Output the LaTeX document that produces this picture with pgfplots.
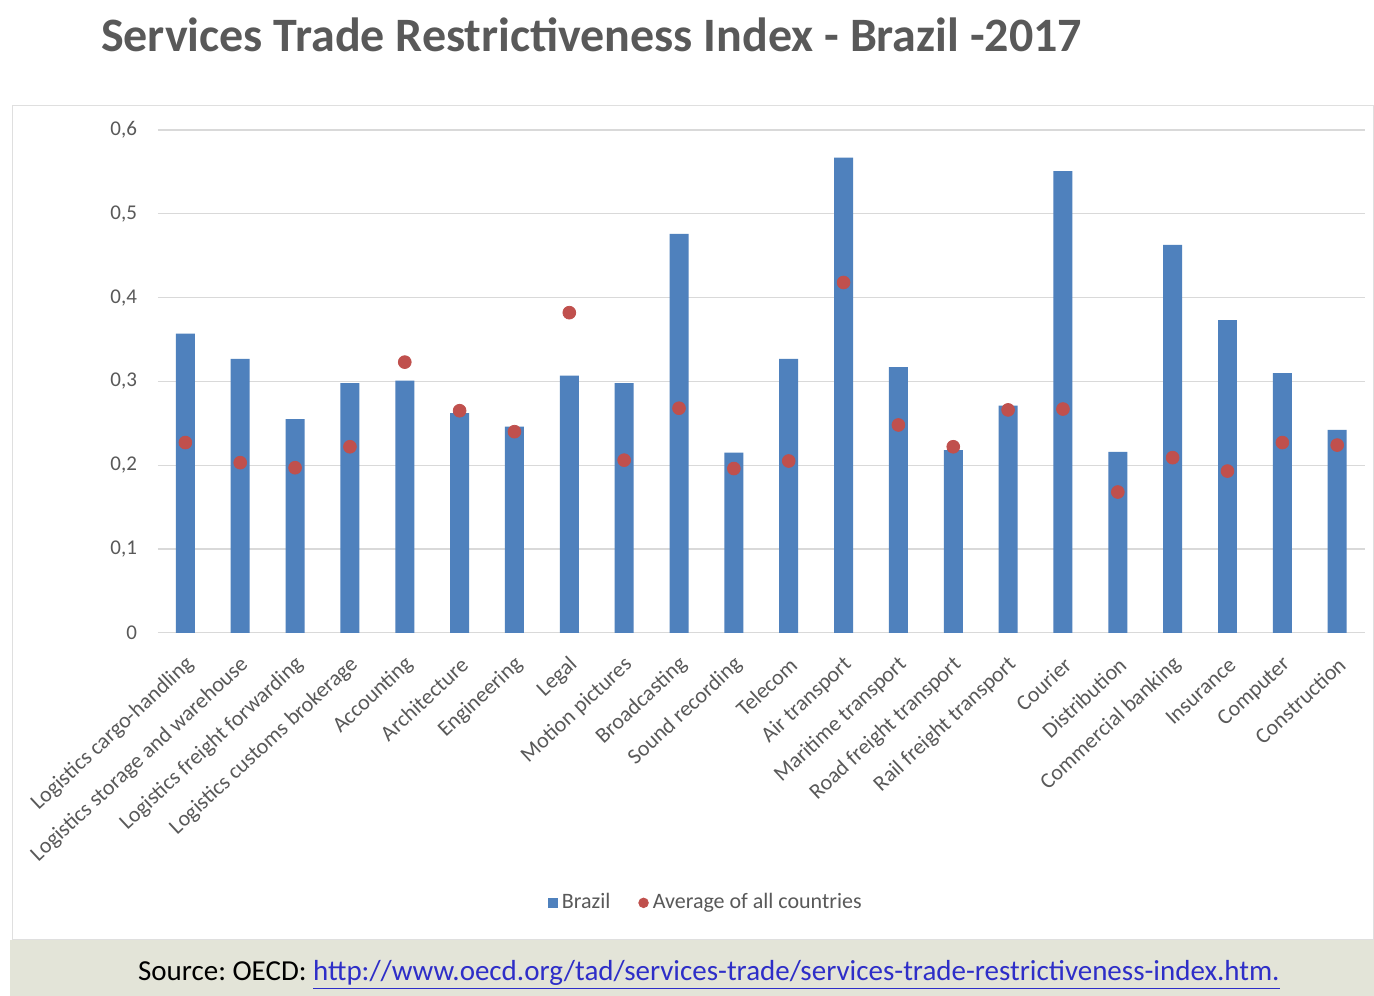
\documentclass[border=0pt]{standalone}
\usepackage{pgfplots}
\pgfplotsset{compat=1.18}
\usepackage{pgfplotstable}
\usepackage{fontspec}
\setmainfont{Carlito}

\definecolor{barblue}{HTML}{4F81BD}
\definecolor{dotred}{HTML}{C0504D}
\definecolor{txtgray}{HTML}{595959}
\definecolor{gridgray}{HTML}{D9D9D9}
\definecolor{footbg}{HTML}{E3E4D8}
\definecolor{linkblue}{HTML}{2E2EC8}

% idx, Brazil, average of all countries
\pgfplotstableread{
idx brazil avg
0  0.357 0.227
1  0.327 0.203
2  0.255 0.197
3  0.298 0.222
4  0.301 0.323
5  0.262 0.265
6  0.246 0.240
7  0.307 0.382
8  0.298 0.206
9  0.476 0.268
10 0.215 0.196
11 0.327 0.205
12 0.567 0.418
13 0.317 0.248
14 0.218 0.222
15 0.271 0.266
16 0.551 0.267
17 0.216 0.168
18 0.463 0.209
19 0.373 0.193
20 0.310 0.227
21 0.242 0.224
}\stsri

\begin{document}
\begin{tikzpicture}
% page and frame (1px = 0.5pt)
\fill[white] (0pt,0pt) rectangle (687pt,498pt);
\draw[gray!25] (6pt,28pt) rectangle (687pt,445.5pt);
\fill[footbg] (5pt,0pt) rectangle (687pt,28pt);
\node[anchor=west, text=txtgray, font=\fontsize{24}{28}\selectfont\bfseries] at (47pt,480.5pt)
  {Services Trade Restrictiveness Index - Brazil -2017};
\node[font=\fontsize{14.5}{17}\selectfont] at (354.5pt,10.5pt)
  {Source:\ OECD: \textcolor{linkblue}{\underline{http://www.oecd.org/tad/services-trade/services-trade-restrictiveness-index.htm.}}};

\begin{axis}[
    at={(79pt,181.5pt)}, anchor=south west,
    scale only axis,
    width=603.5pt, height=251.5pt,
    xmin=-0.5, xmax=21.5,
    ymin=0, ymax=0.6,
    ytick={0,0.1,0.2,0.3,0.4,0.5,0.6},
    xtick=data,
    xticklabels={Logistics cargo-handling, Logistics storage and warehouse,
      Logistics freight forwarding, Logistics customs brokerage, Accounting,
      Architecture, Engineering, Legal, Motion pictures, Broadcasting,
      Sound recording, Telecom, Air transport, Maritime transport,
      Road freight transport, Rail freight transport, Courier, Distribution,
      Commercial banking, Insurance, Computer, Construction},
    xticklabel style={xshift=5pt, yshift=-12pt, rotate=43, anchor=east,
      font=\fontsize{11}{12}\selectfont, text=txtgray},
    yticklabel style={font=\fontsize{10.5}{12}\selectfont, text=txtgray, xshift=-7pt,
      /pgf/number format/fixed, /pgf/number format/precision=1,
      /pgf/number format/use comma, /pgf/number format/assume math mode=true},
    major tick length=0pt,
    axis line style={draw=none},
    ymajorgrids, grid style={gridgray, line width=0.6pt},
    legend columns=2,
    legend style={at={(axis description cs:0.455,-0.537)}, anchor=center,
      draw=none, fill=none, font=\fontsize{11}{12}\selectfont, text=txtgray,
      /tikz/every even column/.append style={column sep=12pt}},
    legend cell align=left,
]
\addplot[ybar, bar shift=0pt, bar width=9.5pt, fill=barblue, draw=none,
  legend image code/.code={\fill[barblue] (0pt,-2.4pt) rectangle (4.8pt,2.4pt);}]
  table[x=idx, y=brazil] {\stsri};
\addlegendentry{Brazil}
\addplot[only marks, mark=*, mark size=3.2pt, color=dotred,
  mark options={fill=dotred, draw=none},
  legend image code/.code={\fill[dotred] (2.4pt,0pt) circle (2.4pt);}]
  table[x=idx, y=avg] {\stsri};
\addlegendentry{Average of all countries}
\end{axis}
\end{tikzpicture}
\end{document}
